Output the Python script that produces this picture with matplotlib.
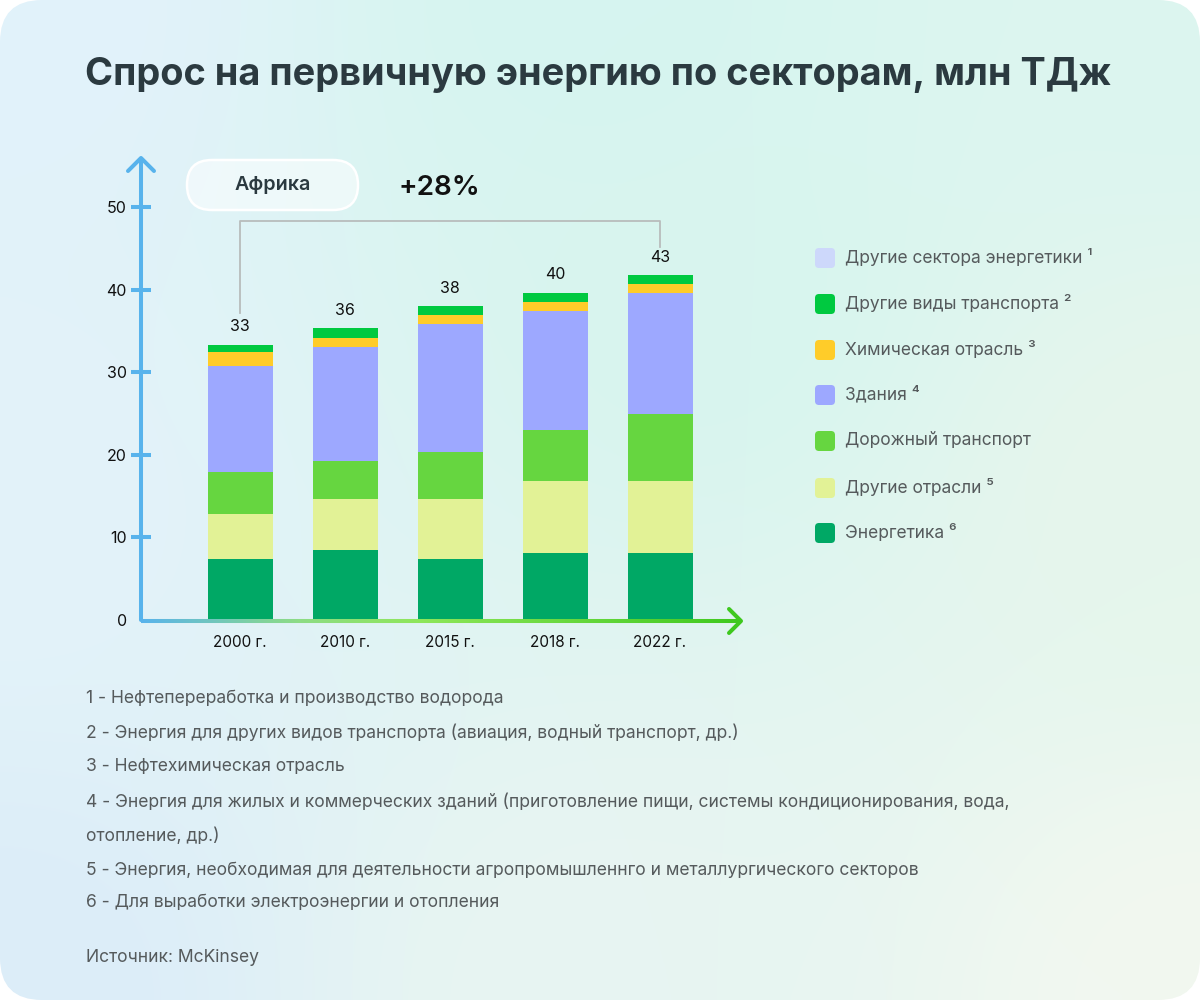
import numpy as np
import matplotlib
matplotlib.use("Agg")
import matplotlib.pyplot as plt
from matplotlib.patches import FancyBboxPatch
from matplotlib.collections import LineCollection
from matplotlib.colors import to_rgb

plt.rcParams['font.family'] = ['Inter', 'DejaVu Sans']

# ---------------- data ----------------
years = ["2000 г.", "2010 г.", "2015 г.", "2018 г.", "2022 г."]
energetika = [7.4, 8.5, 7.4, 8.1, 8.1]
other_industries = [5.4, 6.2, 7.3, 8.7, 8.7]
road_transport = [5.1, 4.5, 5.6, 6.2, 8.15]
buildings = [12.8, 13.9, 15.5, 14.4, 14.6]
chemical = [1.8, 1.1, 1.1, 1.1, 1.1]
other_transport = [0.85, 1.1, 1.1, 1.1, 1.1]
other_energy = [0, 0, 0, 0, 0]
total_labels = ["33", "36", "38", "40", "43"]
growth_label = "+28%"
region_label = "Африка"
y_ticks = [0, 10, 20, 30, 40, 50]

series_names = ["Энергетика ⁶", "Другие отрасли ⁵", "Дорожный транспорт", "Здания ⁴",
                "Химическая отрасль ³", "Другие виды транспорта ²", "Другие сектора энергетики ¹"]
series_values = [energetika, other_industries, road_transport, buildings,
                 chemical, other_transport, other_energy]
series_colors = ["#00a865", "#e2f296", "#66d640", "#9da8ff", "#ffcc29", "#00c940", "#cdd8fb"]

footnotes = [
    "1 - Нефтепереработка и производство водорода",
    "2 - Энергия для других видов транспорта (авиация, водный транспорт, др.)",
    "3 - Нефтехимическая отрасль",
    "4 - Энергия для жилых и коммерческих зданий (приготовление пищи, системы кондиционирования, вода,",
    "отопление, др.)",
    "5 - Энергия, необходимая для деятельности агропромышленнго и металлургического секторов",
    "6 - Для выработки электроэнергии и отопления",
]
source = "Источник: McKinsey"
title = "Спрос на первичную энергию по секторам, млн ТДж"

W, H = 1200, 1000
fig = plt.figure(figsize=(12, 10), dpi=100, facecolor="white")

# ---------------- background ----------------
bg = fig.add_axes([0, 0, 1, 1], zorder=0)
bg.set_xlim(0, W)
bg.set_ylim(H, 0)
bg.axis("off")

anchors = [
    ((0, 0), "#e2f2fb"), ((600, 0), "#d6f5f0"), ((1200, 0), "#dcf6f0"),
    ((0, 500), "#e3f3fa"), ((700, 300), "#d8f5ee"), ((1200, 500), "#e6f6ec"),
    ((0, 1000), "#dcedf9"), ((600, 1000), "#e8f5f2"), ((1200, 1000), "#f2f8f0"),
]
gx, gy = np.meshgrid(np.linspace(0, W, 120), np.linspace(0, H, 100))
acc = np.zeros(gx.shape + (3,))
wsum = np.zeros(gx.shape)
for (ax_, ay_), c in anchors:
    d2 = (gx - ax_) ** 2 + (gy - ay_) ** 2 + 1.0
    w = 1.0 / d2 ** 1.3
    acc += w[..., None] * np.array(to_rgb(c))
    wsum += w
img = acc / wsum[..., None]
im = bg.imshow(img, extent=(0, W, H, 0), interpolation="bilinear", aspect="auto")
card = FancyBboxPatch((0, 0), W, H, boxstyle="round,pad=0,rounding_size=42",
                      transform=bg.transData, facecolor="none", edgecolor="none")
bg.add_patch(card)
im.set_clip_path(card)

bg.text(85, 75, title, fontsize=27.3, fontweight="bold", color="#2b3a40",
        va="center", ha="left")

# ---------------- chart axes ----------------
x0_px, x1_px, ybot_px, ytop_px = 141, 740, 620, 160
ax = fig.add_axes([x0_px / W, 1 - ybot_px / H, (x1_px - x0_px) / W, (ybot_px - ytop_px) / H],
                  zorder=2)
ax.patch.set_alpha(0)
spacing = 105.0
ax.set_xlim(-(240 - x0_px) / spacing, (x1_px - 240) / spacing)
ax.set_ylim(0, (ybot_px - ytop_px) / 8.26)

x = np.arange(len(years))
bottom = np.zeros(len(years))
for vals, col in zip(series_values, series_colors):
    v = np.array(vals, dtype=float)
    ax.bar(x, v, bottom=bottom, width=65 / spacing, color=col, linewidth=0, zorder=2)
    bottom += v

for xi, tot, lab in zip(x, bottom, total_labels):
    ax.annotate(lab, (xi, tot), xytext=(0, 13), textcoords="offset points",
                ha="center", va="center", fontsize=11.5, color="#111111")

# bracket
br_y = 48.3
ax.plot([x[0], x[0], x[-1], x[-1]],
        [bottom[0] + 3.85, br_y, br_y, bottom[-1] + 3.4],
        color="#b8bcbc", lw=1.3, zorder=1, clip_on=False)

for s in ["top", "right", "bottom"]:
    ax.spines[s].set_visible(False)
ax.spines["left"].set_color("#58b3ec")
ax.spines["left"].set_linewidth(2.9)
ax.spines["left"].set_capstyle("round")

ax.set_yticks(y_ticks)
ax.set_yticklabels([str(t) for t in y_ticks])
ax.tick_params(axis="y", direction="inout", length=14.4, width=2.9, color="#58b3ec",
               labelsize=11.5, labelcolor="#111111", pad=3)
ax.yaxis.get_major_ticks()[0].tick1line.set_visible(False)
for t in ax.yaxis.get_major_ticks():
    t.tick1line.set_solid_capstyle("round")
ax.set_xticks(x)
ax.set_xticklabels(years)
ax.tick_params(axis="x", length=0, labelsize=11, labelcolor="#111111", pad=11)

# ---------------- foreground decorations ----------------
fg = fig.add_axes([0, 0, 1, 1], zorder=3)
fg.set_xlim(0, W)
fg.set_ylim(H, 0)
fg.axis("off")
fg.patch.set_alpha(0)

# y-axis arrow head
fg.plot([128, 141, 154], [171, 158, 171], color="#58b3ec", lw=2.9,
        solid_capstyle="round", solid_joinstyle="round")

# x-axis gradient line
xs = np.linspace(141, 740, 200)
stops = [(141, "#58b3ec"), (300, "#8ddc84"), (420, "#8ee65a"), (740, "#3ec81e")]
def grad_col(px):
    for (a, ca), (b, cb) in zip(stops[:-1], stops[1:]):
        if px <= b:
            t = (px - a) / (b - a)
            return tuple(np.array(to_rgb(ca)) * (1 - t) + np.array(to_rgb(cb)) * t)
    return to_rgb(stops[-1][1])
segs = [[(xs[i], 621), (xs[i + 1], 621)] for i in range(len(xs) - 1)]
cols = [grad_col((xs[i] + xs[i + 1]) / 2) for i in range(len(xs) - 1)]
fg.add_collection(LineCollection(segs, colors=cols, linewidths=2.9, capstyle="butt"))
fg.plot([729, 741, 729], [609, 621, 633], color="#3ec81e", lw=2.9,
        solid_capstyle="round", solid_joinstyle="round")

# region pill
pill = FancyBboxPatch((187, 160), 171, 50, boxstyle="round,pad=0,rounding_size=25",
                      facecolor=(1, 1, 1, 0.5), edgecolor="white", lw=1.8)
fg.add_patch(pill)
fg.text(273, 185, region_label, fontsize=14.2, fontweight="semibold", color="#2b3a40",
        ha="center", va="center")
fg.text(439, 188, growth_label, fontsize=20, fontweight="semibold", color="#111111",
        ha="center", va="center")

# legend
leg_y = [258, 304, 350, 395, 441, 488, 533]
for yy, name, col in zip(leg_y, series_names[::-1], series_colors[::-1]):
    fg.add_patch(FancyBboxPatch((815, yy - 10), 20, 20, boxstyle="round,pad=0,rounding_size=4",
                                facecolor=col, edgecolor="none"))
    fg.text(845, yy, name, fontsize=12.5, color="#555a5c", ha="left", va="center")

# footnotes
foot_y = [698, 733, 767, 802, 836, 870, 903]
for yy, t in zip(foot_y, footnotes):
    fg.text(86, yy, t, fontsize=12.6, color="#555a5c", ha="left", va="center")
fg.text(86, 958, source, fontsize=12.6, color="#555a5c", ha="left", va="center")

fig.savefig("out.png", dpi=100, facecolor="white")
